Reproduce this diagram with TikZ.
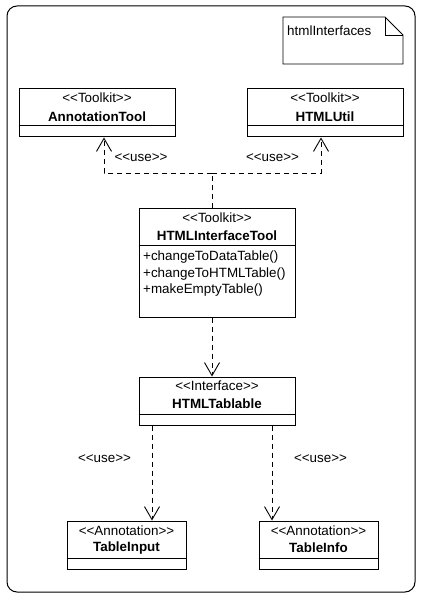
\documentclass[tikz,border=0pt]{standalone}
\usepackage{fontspec}
\setmainfont{Liberation Sans}
\usetikzlibrary{arrows.meta}
\newcommand\sto{<\kern0pt<}
\newcommand\stc{>\kern0pt>}
\begin{document}
\begin{tikzpicture}[x=1pt,y=-1pt,
  font=\fontsize{13.4}{15}\selectfont,
  cls/.style={draw,line width=1pt,minimum width=156pt,minimum height=48pt,inner sep=0pt,fill=white},
  acls/.style={draw,line width=1pt,minimum width=119pt,minimum height=48pt,inner sep=0pt,fill=white},
  txt/.style={inner sep=0pt},
  dep/.style={line width=0.9pt,dash pattern=on 5pt off 4pt,-{Straight Barb[length=13pt,width=15pt,line width=0.9pt]}},
  depl/.style={line width=0.9pt,dash pattern=on 5pt off 4pt}
]
\useasboundingbox (0,0) rectangle (421,601);
% frame
\draw[line width=1pt,rounded corners=10pt] (7,6) rectangle (415,592);
% note
\draw[line width=0.8pt] (283,17) -- (385,17) -- (403,35) -- (403,64) -- (283,64) -- cycle;
\draw[line width=0.8pt] (385,17) -- (385,35) -- (403,35);
\node[txt,anchor=west] (notetxt) at (287,31) {htmlInterfaces};
% AnnotationTool
\node[cls] (at) at (97,113) {};
\node[txt] (atst) at (97,98) {\sto Toolkit\stc};
\node[txt] (atnm) at (97,117) {\textbf{AnnotationTool}};
\draw[line width=1pt] (at.west |- 0,126) -- (at.east |- 0,126);
% HTMLUtil
\node[cls] (hu) at (325,113) {};
\node[txt] (hust) at (325,98) {\sto Toolkit\stc};
\node[txt] (hunm) at (325,117) {\textbf{HTMLUtil}};
\draw[line width=1pt] (hu.west |- 0,126) -- (hu.east |- 0,126);
% HTMLInterfaceTool
\node[cls,minimum height=108pt] (hit) at (217,263) {};
\node[txt] (hitst) at (217,218) {\sto Toolkit\stc};
\node[txt] (hitnm) at (217,236) {\textbf{HTMLInterfaceTool}};
\draw[line width=1pt] (hit.west |- 0,245) -- (hit.east |- 0,245);
\node[txt,anchor=west] (m1) at (143,257) {+changeToDataTable()};
\node[txt,anchor=west] (m2) at (143,274) {+changeToHTMLTable()};
\node[txt,anchor=west] (m3) at (143,290) {+makeEmptyTable()};
% HTMLTablable
\node[cls] (ht) at (217,401) {};
\node[txt] (htst) at (217,386) {\sto Interface\stc};
\node[txt] (htnm) at (217,404) {\textbf{HTMLTablable}};
\draw[line width=1pt] (ht.west |- 0,414) -- (ht.east |- 0,414);
% TableInput
\node[acls] (tin) at (126.5,545) {};
\node[txt] (tinst) at (126.5,531) {\sto Annotation\stc};
\node[txt] (tinnm) at (126.5,548) {\textbf{TableInput}};
\draw[line width=1pt] (tin.west |- 0,558) -- (tin.east |- 0,558);
% TableInfo
\node[acls] (tif) at (318.5,545) {};
\node[txt] (tifst) at (318.5,531) {\sto Annotation\stc};
\node[txt] (tifnm) at (318.5,548) {\textbf{TableInfo}};
\draw[line width=1pt] (tif.west |- 0,558) -- (tif.east |- 0,558);
% connectors
\coordinate (j) at (212,173);
\draw[depl] ([xshift=-5pt]hit.north) -- (j);
\draw[dep] (j) -| ([xshift=7pt]at.south);
\draw[dep] (j) -| ([xshift=-4pt]hu.south);
\draw[dep] ([xshift=-5pt]hit.south) -- ([xshift=-5pt]ht.north);
\draw[dep] ([xshift=-65pt]ht.south) -- ([xshift=-65pt]ht.south |- tin.north);
\draw[dep] ([xshift=55pt]ht.south) -- ([xshift=55pt]ht.south |- tif.north);
% labels
\node[txt] (u1) at (141,158) {\sto use\stc};
\node[txt] (u2) at (272.5,158) {\sto use\stc};
\node[txt] (u3) at (104.5,459) {\sto use\stc};
\node[txt] (u4) at (320.5,459) {\sto use\stc};
\end{tikzpicture}
\end{document}
